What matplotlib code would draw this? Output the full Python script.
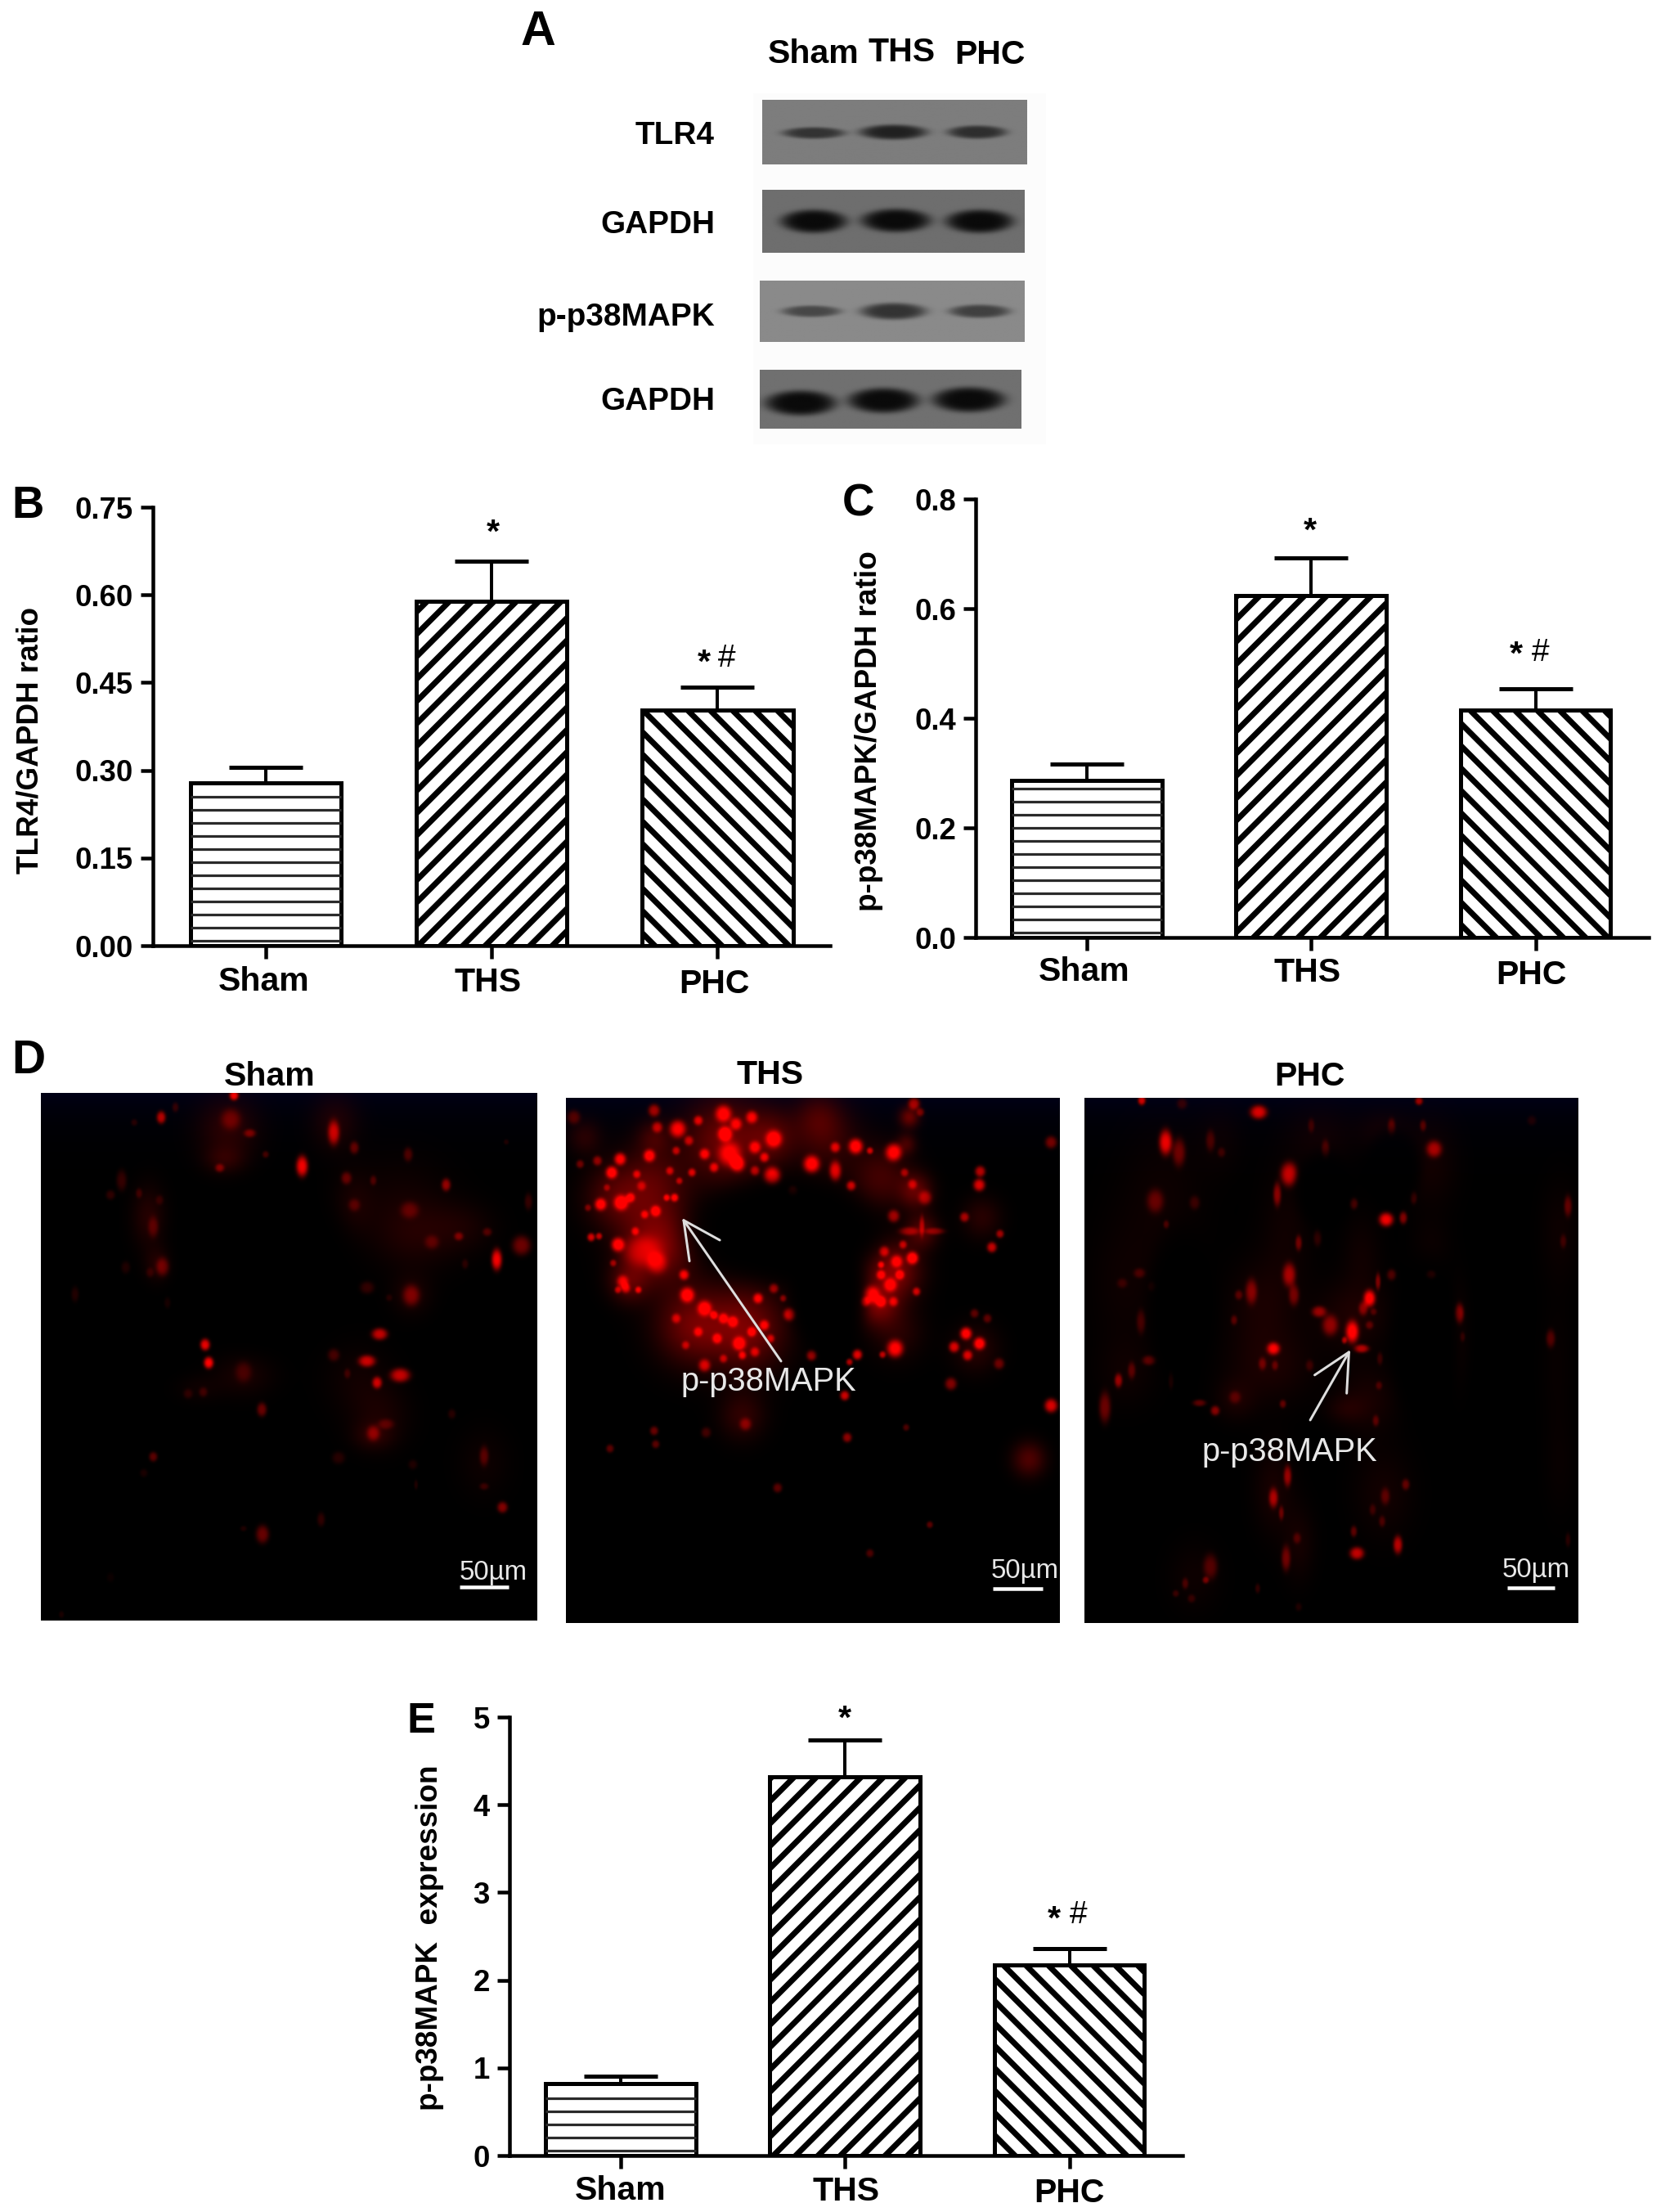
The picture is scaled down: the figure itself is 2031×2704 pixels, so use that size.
import numpy as np
import matplotlib
matplotlib.use('Agg')
import matplotlib.pyplot as plt
from matplotlib.transforms import ScaledTranslation

W, H = 2031, 2704
DPI = 164
PT = 72 / DPI  # one pixel in points

plt.rcParams['font.family'] = ['Liberation Sans', 'DejaVu Sans']
plt.rcParams['hatch.linewidth'] = 3.1

groups = ['Sham', 'THS', 'PHC']

# bar charts, values
tlr4_mean = [0.278, 0.589, 0.403]
tlr4_top = [0.3055, 0.658, 0.442]
tlr4_ticks = [0, 0.15, 0.30, 0.45, 0.60, 0.75]
tlr4_labels = ['0.00', '0.15', '0.30', '0.45', '0.60', '0.75']

p38_mean = [0.287, 0.624, 0.415]
p38_top = [0.316, 0.692, 0.453]
p38_ticks = [0, 0.2, 0.4, 0.6, 0.8]
p38_labels = ['0.0', '0.2', '0.4', '0.6', '0.8']

expr_mean = [0.822, 4.32, 2.174]
expr_top = [0.909, 4.735, 2.364]
expr_ticks = [0, 1, 2, 3, 4, 5]
expr_labels = ['0', '1', '2', '3', '4', '5']

# western blot strips: left, top, right, bottom, grey level
blot_boxes = [(932, 122, 1255, 201, 0.49), (932, 232, 1252, 309, 0.43),
              (929, 343, 1252, 418, 0.54), (929, 452, 1248, 524, 0.44)]
# bands per strip: x, y, half width, half height, darkness
blot_bands = [
    [(995, 163, 38, 7, 0.20), (1092, 162, 41, 9, 0.13), (1194, 162, 36, 8, 0.18)],
    [(995, 271, 40, 14, 0.04), (1095, 270, 42, 14, 0.04), (1197, 271, 41, 14, 0.04)],
    [(992, 381, 36, 7, 0.28), (1092, 381, 40, 10, 0.20), (1197, 381, 37, 8, 0.25)],
    [(979, 493, 43, 15, 0.04), (1080, 490, 43, 15, 0.04), (1184, 489, 44, 15, 0.04)],
]
blot_names = ['TLR4', 'GAPDH', 'p-p38MAPK', 'GAPDH']
blot_name_y = [162, 271, 384, 487]

# fluorescence panels, measured on a 1568 x 1568 view of each image: x, y, rx, ry, level
sham_haze = [(590, 110, 90, 90, .16), (580, 200, 60, 40, .14), (930, 90, 70, 80, .12), (340, 370, 50, 90, .14),
             (370, 510, 40, 50, .13), (1180, 420, 130, 100, .12), (1330, 400, 100, 70, .08), (1070, 960, 90, 90, .09),
             (640, 840, 90, 60, .09), (1000, 850, 100, 100, .06), (1170, 600, 60, 60, .1), (1130, 300, 150, 120, .05),
             (990, 330, 60, 90, .08), (500, 880, 70, 40, .05), (1400, 1100, 80, 100, .05), (1050, 1020, 60, 40, .12)]
sham_spots = [(610, 10, 14, 14, .9), (380, 75, 14, 18, .7), (425, 45, 10, 14, .2), (295, 90, 10, 10, .15),
              (600, 80, 30, 30, .3), (660, 122, 18, 12, .4), (925, 120, 18, 35, .7), (990, 165, 14, 18, .35),
              (825, 220, 18, 30, .95), (565, 225, 14, 12, .4), (710, 185, 10, 10, .25), (965, 255, 16, 18, .35),
              (1050, 262, 10, 14, .25), (1160, 185, 14, 20, .28), (1280, 275, 14, 18, .55), (1470, 148, 8, 8, .12),
              (1540, 325, 12, 24, .2), (255, 262, 16, 30, .2), (220, 305, 14, 14, .18), (375, 320, 12, 14, .15),
              (310, 300, 10, 14, .2), (355, 400, 16, 30, .25), (385, 518, 20, 26, .4), (345, 535, 12, 14, .15),
              (268, 520, 14, 18, .12), (108, 600, 12, 22, .13), (400, 625, 10, 16, .1), (990, 335, 18, 18, .25),
              (1165, 350, 28, 24, .28), (1235, 445, 22, 20, .25), (1320, 428, 14, 12, .4), (1410, 415, 14, 12, .28),
              (1440, 497, 16, 30, .95), (1518, 455, 28, 28, .42), (1340, 510, 10, 14, .15), (1030, 580, 22, 18, .2),
              (1170, 603, 26, 30, .4), (1100, 610, 10, 10, .12), (1070, 718, 24, 17, .75), (1030, 798, 26, 17, .75),
              (1135, 840, 30, 20, .75), (1062, 862, 15, 17, .75), (925, 780, 18, 18, .25), (968, 835, 10, 14, .2),
              (519, 749, 15, 17, 1), (530, 803, 15, 17, 1), (640, 830, 25, 30, .2), (465, 895, 14, 14, .15),
              (513, 890, 13, 14, .2), (698, 942, 15, 20, .4), (1050, 1012, 20, 22, .4), (1090, 985, 24, 15, .25),
              (1400, 1080, 14, 28, .3), (355, 1082, 13, 14, .35), (325, 1130, 12, 12, .1), (940, 1085, 20, 18, .15),
              (1400, 1170, 14, 10, .2), (1458, 1232, 16, 16, .5), (700, 1312, 20, 26, .4), (885, 1268, 12, 20, .18),
              (640, 1295, 10, 8, .12), (1298, 955, 12, 14, .15), (1175, 1105, 14, 14, .12), (1185, 1165, 6, 14, .12),
              (220, 1440, 12, 14, .05), (65, 1550, 8, 10, .1)]
sham_holes = [(700, 520, 280, 240)]

ths_haze = [(270, 260, 110, 110, .32), (290, 440, 110, 110, .5), (500, 130, 120, 120, .4), (650, 120, 80, 80, .3),
            (400, 680, 110, 110, .4), (570, 690, 120, 120, .45), (150, 300, 90, 90, .25), (830, 130, 100, 100, .2),
            (1000, 240, 90, 90, .25), (1110, 280, 50, 50, .35), (1040, 520, 80, 80, .5), (990, 620, 60, 60, .4),
            (1130, 400, 50, 50, .3), (60, 120, 50, 50, .15), (1470, 1080, 50, 50, .3), (1300, 750, 70, 70, .15),
            (560, 950, 70, 70, .18), (1050, 700, 80, 80, .15), (1320, 360, 60, 60, .15), (280, 120, 50, 50, .2),
            (800, 60, 70, 70, .2), (1090, 60, 30, 30, .4), (1080, 140, 30, 30, .25), (200, 550, 60, 60, .3)]
ths_spots = [(145, 225, 18, 18, .95), (172, 185, 18, 18, .9), (265, 175, 18, 18, .9), (110, 320, 18, 18, .9),
             (175, 315, 22, 22, .9), (80, 418, 12, 12, .8), (105, 415, 10, 10, .7), (165, 440, 20, 20, .95),
             (245, 460, 60, 45, .45), (290, 495, 30, 30, .5), (285, 340, 16, 16, .8), (345, 300, 12, 12, .8),
             (355, 95, 25, 25, .9), (500, 50, 25, 25, .85), (505, 110, 22, 22, .95), (520, 170, 35, 35, .7),
             (545, 200, 22, 22, .9), (660, 125, 25, 25, .9), (655, 235, 25, 25, 1), (600, 150, 18, 18, .7),
             (780, 200, 25, 25, 1), (855, 220, 18, 28, .8), (855, 150, 15, 15, .7), (920, 147, 22, 22, 1),
             (965, 160, 10, 10, .7), (1040, 165, 25, 25, .95), (905, 265, 14, 14, .8), (1040, 355, 18, 18, .6),
             (1100, 480, 18, 18, 1), (1050, 490, 18, 18, .7), (1010, 460, 15, 15, .7), (970, 590, 25, 25, .8),
             (1030, 560, 20, 20, .7), (1113, 580, 12, 12, .7), (1265, 358, 14, 14, .6), (1315, 222, 16, 16, .7),
             (1312, 262, 18, 18, .85), (1378, 408, 12, 12, .6), (1352, 448, 15, 15, .75), (375, 530, 15, 15, .8),
             (385, 590, 22, 22, .95), (440, 630, 22, 22, .85), (500, 660, 15, 15, .7), (610, 600, 15, 15, .8),
             (710, 648, 18, 18, .9), (550, 735, 20, 20, .85), (480, 720, 15, 15, .7), (630, 680, 15, 15, .7),
             (440, 800, 18, 18, .7), (780, 770, 15, 15, .7), (925, 768, 15, 15, .9), (900, 790, 10, 10, .7),
             (1045, 750, 25, 25, .95), (1005, 768, 10, 10, .7), (885, 890, 14, 14, .8), (1270, 705, 18, 18, 1),
             (1313, 735, 18, 18, 1), (1232, 745, 16, 16, .8), (1275, 770, 15, 15, .75), (1222, 855, 18, 18, .5),
             (1375, 795, 16, 16, .4), (1297, 645, 13, 13, .35), (1338, 660, 13, 13, .35), (1540, 920, 20, 20, .85),
             (1540, 135, 18, 18, .45), (893, 1015, 14, 14, .55), (570, 975, 18, 18, .4), (280, 995, 13, 13, .4),
             (285, 1035, 12, 12, .35), (140, 1048, 12, 12, .35), (672, 1165, 14, 14, .35), (965, 1360, 12, 12, .3),
             (1155, 1275, 10, 10, .35), (1080, 985, 10, 10, .3), (445, 1000, 15, 15, .25), (180, 550, 18, 18, .65),
             (25, 60, 20, 20, .3), (1105, 20, 18, 18, .6), (1125, 45, 12, 12, .4),
             (420, 70, 14, 14, .7), (440, 170, 16, 16, .75), (470, 210, 14, 14, .7), (390, 130, 14, 14, .6),
             (590, 60, 18, 18, .75), (600, 220, 14, 14, .6), (540, 80, 18, 18, .7), (630, 180, 14, 14, .7),
             (290, 90, 16, 16, .6), (350, 160, 12, 12, .6), (400, 225, 12, 12, .7), (280, 40, 18, 18, .6),
             (225, 230, 12, 12, .6), (205, 300, 14, 14, .7), (240, 265, 14, 14, .45), (330, 220, 12, 12, .6),
             (360, 250, 10, 10, .55), (320, 300, 10, 10, .7), (250, 350, 12, 12, .6), (220, 400, 12, 12, .6),
             (130, 270, 10, 10, .4), (100, 190, 14, 14, .5), (45, 200, 12, 12, .4), (70, 330, 10, 10, .4),
             (150, 495, 10, 10, .5), (190, 570, 14, 14, .6), (230, 575, 10, 10, .7), (165, 575, 10, 10, .6),
             (350, 660, 14, 14, .55), (420, 700, 14, 14, .6), (380, 740, 12, 12, .5), (470, 650, 12, 12, .7),
             (530, 670, 16, 16, .75), (590, 700, 14, 14, .75), (650, 720, 12, 12, .6), (660, 570, 14, 14, .6),
             (690, 600, 10, 10, .5), (600, 760, 14, 14, .6), (500, 780, 12, 12, .55), (560, 770, 12, 12, .7),
             (1000, 530, 14, 14, .7), (1060, 530, 14, 14, .75), (1040, 610, 14, 14, .6), (950, 610, 14, 14, .8),
             (1000, 610, 16, 16, .75), (1070, 440, 12, 12, .6), (1000, 500, 10, 10, .7), (1090, 400, 30, 12, .45),
             (1170, 400, 30, 10, .4), (1130, 385, 8, 30, .45), (720, 280, 14, 14, .4), (1100, 260, 14, 14, .5),
             (1140, 300, 20, 20, .5), (1075, 225, 12, 12, .5)]
ths_holes = [(690, 400, 300, 150), (830, 600, 120, 170)]

phc_haze = [(250, 300, 130, 200, .05), (130, 560, 110, 200, .05), (640, 400, 80, 200, .06), (880, 470, 60, 120, .06),
            (1100, 200, 80, 130, .07), (950, 100, 80, 60, .07), (750, 120, 100, 90, .06), (560, 620, 100, 130, .09),
            (850, 650, 110, 100, .11), (590, 800, 130, 110, .1), (900, 900, 90, 100, .09), (830, 930, 60, 40, .09),
            (480, 900, 60, 60, .09), (1100, 440, 60, 80, .04), (1190, 700, 30, 150, .05), (600, 1170, 60, 130, .09),
            (950, 1180, 90, 130, .07), (680, 1330, 50, 110, .08), (350, 1430, 80, 100, .05), (1510, 400, 60, 150, .05),
            (1500, 800, 50, 200, .03), (1510, 1100, 50, 150, .03), (130, 820, 90, 100, .05), (430, 130, 70, 100, .04)]
phc_spots = [(182, 10, 12, 14, .8), (258, 135, 20, 36, .9), (300, 165, 20, 40, .4), (400, 130, 14, 30, .25),
             (435, 165, 12, 14, .2), (553, 45, 26, 20, .85), (310, 20, 16, 16, .2), (650, 230, 26, 34, .75),
             (612, 290, 12, 34, .5), (765, 155, 12, 26, .3), (720, 85, 10, 20, .2), (975, 90, 12, 24, .4),
             (1075, 85, 10, 16, .3), (1110, 155, 24, 24, .6), (1062, 12, 12, 12, .6), (1045, 300, 10, 18, .25),
             (855, 318, 12, 16, .3), (958, 365, 22, 20, .95), (1012, 360, 12, 18, .5), (225, 310, 26, 34, .35),
             (350, 315, 16, 20, .2), (260, 380, 9, 12, .3), (680, 435, 10, 22, .4), (740, 420, 12, 24, .18),
             (650, 530, 20, 34, .6), (665, 590, 16, 30, .4), (530, 580, 18, 36, .45), (490, 590, 12, 14, .3),
             (175, 525, 18, 14, .25), (120, 555, 16, 14, .18), (215, 565, 12, 14, .15), (180, 670, 14, 34, .25),
             (475, 665, 10, 14, .3), (745, 640, 22, 16, .55), (780, 680, 24, 30, .5), (905, 600, 18, 24, 1),
             (932, 550, 8, 24, .45), (885, 630, 14, 20, .45), (850, 700, 20, 32, 1), (825, 725, 8, 10, .6),
             (905, 680, 12, 12, .3), (918, 640, 10, 10, .25), (975, 530, 14, 16, .3), (880, 750, 22, 12, .65),
             (1100, 530, 14, 12, .45), (1190, 645, 14, 28, .6), (1200, 715, 8, 14, .2), (1480, 720, 14, 26, .3),
             (1535, 325, 12, 30, .35), (1520, 430, 10, 20, .2), (600, 750, 20, 18, .9), (565, 795, 12, 18, .35),
             (605, 800, 10, 14, .3), (715, 800, 12, 16, .2), (205, 785, 20, 14, .35), (150, 815, 12, 24, .3),
             (108, 845, 12, 20, .55), (65, 925, 18, 44, .4), (275, 845, 8, 24, .15), (365, 912, 20, 10, .35),
             (415, 935, 14, 14, .5), (478, 895, 18, 18, .25), (630, 915, 10, 12, .35), (925, 965, 10, 16, .3),
             (935, 860, 10, 12, .25), (938, 780, 9, 18, .2), (645, 1130, 12, 30, .55), (600, 1195, 14, 28, .6),
             (625, 1240, 8, 20, .35), (1020, 1155, 12, 16, .35), (955, 1190, 14, 24, .3), (915, 1230, 10, 16, .2),
             (945, 1265, 10, 16, .25), (855, 1295, 10, 16, .35), (865, 1360, 22, 18, .75), (995, 1335, 14, 26, .7),
             (640, 1375, 14, 36, .4), (675, 1315, 12, 16, .25), (400, 1400, 22, 36, .3), (385, 1440, 10, 10, .4),
             (320, 1450, 10, 16, .25), (290, 1480, 10, 10, .2), (340, 1495, 12, 12, .18), (550, 1465, 8, 14, .18),
             (680, 1520, 10, 12, .12), (1535, 1320, 8, 20, .15), (1420, 70, 14, 14, .12)]
phc_holes = [(760, 280, 90, 120), (980, 210, 90, 120), (310, 620, 110, 240), (1080, 730, 110, 250)]

fig = plt.figure(figsize=((W + 0.1) / DPI, (H + 0.1) / DPI), dpi=DPI)


def axes_px(x0, y0, x1, y1):
    return fig.add_axes([x0 / W, 1 - y1 / H, (x1 - x0) / W, (y1 - y0) / H])


# overlay in reference pixels, for labels and annotations
ov = fig.add_axes([0, 0, 1, 1], zorder=10)
ov.set_xlim(0, W)
ov.set_ylim(H, 0)
ov.axis('off')


def put(x, y, s, size, shift=0.36, weight='bold', ha='center', color='black'):
    # y is the middle of the glyphs, so go through the baseline
    em = size / PT
    ov.text(x, y + shift * em, s, fontsize=size, fontweight=weight, ha=ha, va='baseline', color=color)


def bar_panel(box, mean, top, ticks, labels, ymax, ylabel, ylab_xy, lab_shift, x_off=0):
    ax = axes_px(*box)
    x = np.arange(3)
    ax.bar(x, mean, width=0.67, color='white', edgecolor='black', linewidth=5 * PT,
           hatch=['', '//', '\\\\'], zorder=3)
    up = np.array(top) - np.array(mean)
    ax.errorbar(x, mean, yerr=[np.zeros(3), up], fmt='none', ecolor='black', elinewidth=4 * PT,
                capsize=45 * PT, capthick=5 * PT, zorder=2)
    # thin horizontal stripes of the first bar, 16 px apart
    step = 16 * ymax / (box[3] - box[1])
    ax.hlines(np.arange(step * 0.35, mean[0] - step * 0.5, step), x[0] - 0.335, x[0] + 0.335,
              color='#2a2a2a', linewidth=3.2 * PT, zorder=4)
    ax.set_xlim(-0.5 + x_off, 2.5 + x_off)
    ax.set_ylim(0, ymax)
    ax.set_xticks(x, groups)
    ax.set_yticks(ticks, labels)
    ax.tick_params(axis='y', length=15 * PT, width=4.5 * PT, pad=4, labelsize=16)
    ax.tick_params(axis='x', length=16 * PT, width=4.5 * PT, pad=4.5, labelsize=18)
    for lab in ax.get_yticklabels():
        lab.set_fontweight('bold')
    # the group labels sit a little off their ticks in the original
    for lab, (dx, dy) in zip(ax.get_xticklabels(), lab_shift):
        lab.set_fontweight('bold')
        lab.set_transform(lab.get_transform() + ScaledTranslation(dx / DPI, -dy / DPI, fig.dpi_scale_trans))
    ax.spines['top'].set_visible(False)
    ax.spines['right'].set_visible(False)
    ax.spines['left'].set_linewidth(4.5 * PT)
    ax.spines['bottom'].set_linewidth(4.5 * PT)
    ax.patch.set_alpha(0)
    ov.text(ylab_xy[0], ylab_xy[1], ylabel, rotation=90, ha='center', va='center',
            fontsize=16.2, fontweight='bold')
    return ax


bar_panel((187, 620, 1015, 1156), tlr4_mean, tlr4_top, tlr4_ticks, tlr4_labels, 0.75,
          'TLR4/GAPDH ratio', (37, 905), [(-2.5, -1), (-4.5, 0), (-4, 2)])
bar_panel((1193, 610, 2016, 1146), p38_mean, p38_top, p38_ticks, p38_labels, 0.8,
          'p-p38MAPK/GAPDH ratio', (1062, 894), [(-3, -3), (-5, -2), (-5, 1)], x_off=0.005)
bar_panel((623, 2099, 1446, 2635), expr_mean, expr_top, expr_ticks, expr_labels, 5,
          'p-p38MAPK  expression', (525, 2369), [(0, -2), (1, -1), (0, 1)], x_off=0.005)

# significance marks
for x, y in [(603, 639), (861, 798), (1602, 637), (1854, 788), (1033, 2089), (1289, 2334)]:
    put(x, y, '*', 18, shift=0.58)
for x, y in [(889, 815), (1884, 808), (1319, 2351)]:
    put(x, y, '#', 17, shift=0, weight='normal')

# panel letters
for s, x, y, size in [('A', 658, 34, 26), ('B', 34, 613, 24), ('C', 1049, 611, 24),
                      ('D', 35, 1291, 25), ('E', 515, 2099, 23)]:
    put(x, y, s, size)

# blots
fig.add_artist(plt.Rectangle((921 / W, 1 - 543 / H), 358 / W, 429 / H, transform=fig.transFigure,
                             facecolor='#fcfcfc', edgecolor='none', zorder=-1))
for (x0, y0, x1, y1, grey), bands in zip(blot_boxes, blot_bands):
    xx, yy = np.meshgrid(np.arange(x0, x1) + 0.5, np.arange(y0, y1) + 0.5)
    img = np.full(xx.shape, grey)
    for bx, by, bw, bh, dark in bands:
        # rounded pill shape
        m = np.exp(-(((xx - bx) / bw) ** 2 + ((yy - by) / bh) ** 2) ** 2.5)
        img = img * (1 - m) + dark * m
    ax = axes_px(x0, y0, x1, y1)
    ax.imshow(img, cmap='gray', vmin=0, vmax=1, aspect='auto', interpolation='bilinear')
    ax.axis('off')

for s, x, y in zip(groups, [995, 1103, 1210], [62, 60, 63]):
    put(x, y, s, 18)
for s, y in zip(blot_names, blot_name_y):
    put(874, y, s, 17, ha='right')


def micro_panel(box, haze, spots, holes):
    x0, y0, x1, y1 = box
    h, w = y1 - y0, x1 - x0
    xx, yy = np.meshgrid(np.arange(w) + 0.5, np.arange(h) + 0.5)
    fx, fy = w / 1568, h / 1568
    red = np.zeros((h, w))
    for sx, sy, rx, ry, a in haze:
        red += a * np.exp(-((xx - sx * fx) / (rx * fx)) ** 2 - ((yy - sy * fy) / (ry * fy)) ** 2)
    for sx, sy, rx, ry, a in spots:
        d = ((xx - sx * fx) / (rx * fx)) ** 2 + ((yy - sy * fy) / (ry * fy)) ** 2
        red += a * np.exp(-d ** 1.5)
    # lumens stay black, whatever the blobs around them do
    for sx, sy, rx, ry in holes:
        d = ((xx - sx * fx) / (rx * fx)) ** 2 + ((yy - sy * fy) / (ry * fy)) ** 2
        red *= 1 - np.exp(-d ** 3)
    img = np.zeros((h, w, 3))
    img[..., 0] = np.clip(red, 0, 1)
    # faint navy along the top edge of the slide
    img[..., 2] = 0.09 * np.exp(-yy / 30) * (1 - np.clip(red * 3, 0, 1))
    ax = axes_px(*box)
    ax.imshow(img, aspect='auto', interpolation='bilinear')
    ax.axis('off')


micro_panel((50, 1336, 656, 1981), sham_haze, sham_spots, sham_holes)
micro_panel((692, 1342, 1295, 1984), ths_haze, ths_spots, ths_holes)
micro_panel((1326, 1342, 1929, 1984), phc_haze, phc_spots, phc_holes)

for s, x, y in zip(groups, [330, 942, 1601], [1312, 1310, 1312]):
    put(x, y, s, 18)

# arrows and labels on the images
for tip, tail in [((834, 1489), (955, 1664)), ((1651, 1650), (1602, 1736))]:
    ov.annotate('', xy=tip, xytext=tail,
                arrowprops=dict(arrowstyle='->,head_length=0.9,head_width=0.45', color='#dedede',
                                linewidth=3 * PT, shrinkA=0, shrinkB=0, mutation_scale=22))
put(940, 1686, 'p-p38MAPK', 17.5, weight='normal', color='#e8e8e8')
put(1577, 1772, 'p-p38MAPK', 17.5, weight='normal', color='#e8e8e8')

for tx, ty, bx0, bx1, by in [(603, 1919, 562, 622, 1940), (1253, 1917, 1214, 1275, 1942),
                             (1878, 1916, 1843, 1901, 1941)]:
    put(tx, ty, '50µm', 14.5, weight='normal', color='#e8e8e8')
    ov.plot([bx0, bx1], [by, by], color='white', linewidth=4.5 * PT, solid_capstyle='butt')

fig.savefig('out.png', dpi=DPI)
